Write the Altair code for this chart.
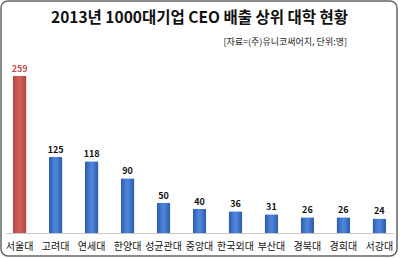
import altair as alt
import pandas as pd

universities = ["서울대", "고려대", "연세대", "한양대", "성균관대", "중앙대", "한국외대", "부산대", "경북대", "경희대", "서강대"]
ceo_counts = [259, 125, 118, 90, 50, 40, 36, 31, 26, 26, 24]
highlight = ["top", "other", "other", "other", "other", "other", "other", "other", "other", "other", "other"]
title_text = ["2013년 1000대기업 CEO 배출 상위 대학 현황"]
source_text = ["[자료=(주)유니코써어치, 단위:명]"]

df = pd.DataFrame({"univ": universities, "count": ceo_counts, "grp": highlight})

FONT = "Noto Sans CJK KR"

x = alt.X("univ:N", sort=universities, title=None,
          scale=alt.Scale(paddingInner=0.62, paddingOuter=0.19),
          axis=alt.Axis(labelAngle=0, labelFont=FONT, labelFontSize=10, labelColor="#111",
                        ticks=False, domainColor="#c8c8c8", domainWidth=1, labelPadding=8))
y = alt.Y("count:Q", scale=alt.Scale(domain=[0, 285]), axis=None)

base = alt.Chart(df)

blue_grad = alt.Gradient(gradient="linear", x1=0, x2=1, y1=0, y2=0,
                         stops=[alt.GradientStop(color="#2a5aa8", offset=0),
                                alt.GradientStop(color="#4f85dc", offset=0.45),
                                alt.GradientStop(color="#4a7fd6", offset=0.6),
                                alt.GradientStop(color="#2a5aa8", offset=1)])
red_grad = alt.Gradient(gradient="linear", x1=0, x2=1, y1=0, y2=0,
                        stops=[alt.GradientStop(color="#b04540", offset=0),
                               alt.GradientStop(color="#d2605c", offset=0.45),
                               alt.GradientStop(color="#cc5a56", offset=0.6),
                               alt.GradientStop(color="#b04540", offset=1)])

bars_blue = base.transform_filter(alt.datum.grp == "other").mark_bar(
    fill=blue_grad, cornerRadiusTopLeft=1.5, cornerRadiusTopRight=1.5).encode(x=x, y=y)
bars_red = base.transform_filter(alt.datum.grp == "top").mark_bar(
    fill=red_grad, cornerRadiusTopLeft=1.5, cornerRadiusTopRight=1.5).encode(x=x, y=y)

labels = base.mark_text(dy=-7, font=FONT, fontSize=9, fontWeight="bold").encode(
    x=x, y=y, text="count:Q",
    color=alt.Color("grp:N", scale=alt.Scale(domain=["top", "other"], range=["#c0504d", "#111111"]), legend=None))

title = alt.Chart(pd.DataFrame({"t": title_text})).mark_text(
    font=FONT, fontSize=15.5, fontWeight="bold", align="center", baseline="middle", color="#111").encode(
    text="t:N", x=alt.value(193.5), y=alt.value(-42))

subtitle = alt.Chart(pd.DataFrame({"t": source_text})).mark_text(
    font=FONT, fontSize=9, align="right", baseline="middle", color="#222").encode(
    text="t:N", x=alt.value(341), y=alt.value(-18))

frame = alt.Chart(pd.DataFrame({"a": [0]})).mark_rect(
    fill=None, stroke="#666", strokeWidth=1.5, cornerRadius=7).encode(
    x=alt.value(-5), x2=alt.value(391), y=alt.value(-59), y2=alt.value(196))

chart = alt.layer(frame, bars_blue, bars_red, labels, title, subtitle).properties(
    width=387, height=173,
    autosize=alt.AutoSizeParams(type="none"),
    padding={"left": 6, "top": 60, "right": 7, "bottom": 25},
    background="white",
).configure_view(stroke=None)

chart.save("out.html", embed_options={"renderer": "svg", "actions": False})
